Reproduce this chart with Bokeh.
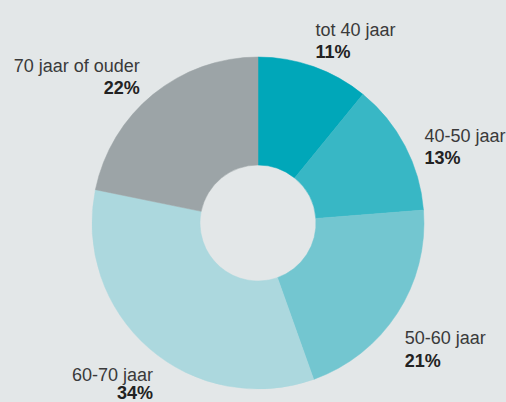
import numpy as np
from bokeh.plotting import figure
from bokeh.models import Range1d, ColumnDataSource
from bokeh.core.properties import value
from bokeh.embed import file_html
from bokeh.resources import INLINE

categories = ["tot 40 jaar", "40-50 jaar", "50-60 jaar", "60-70 jaar", "70 jaar of ouder"]
shares = [11, 13, 21, 34, 22]
pct_labels = ["11%", "13%", "21%", "34%", "22%"]
colors = ["#00a7b9", "#38b7c5", "#73c6d0", "#acd8de", "#9ca4a7"]

BG = "#e3e7e8"
W, H = 506, 402

vals = np.array(shares, dtype=float)
frac = vals / vals.sum()
cum = np.concatenate([[0.0], np.cumsum(frac)])
start = np.pi / 2 - 2 * np.pi * cum[:-1]
end = np.pi / 2 - 2 * np.pi * cum[1:]

src = ColumnDataSource(dict(start=start, end=end, color=colors, cat=categories))

p = figure(width=W, height=H, output_backend="svg", toolbar_location=None,
           x_range=Range1d(0, W), y_range=Range1d(0, H), min_border=0)
p.axis.visible = False
p.grid.visible = False
p.outline_line_color = None
p.background_fill_color = BG
p.border_fill_color = BG

cx, cy = 257.5, 402 - 222.5
p.annular_wedge(x=cx, y=cy, inner_radius=58, outer_radius=166,
                inner_radius_units="screen", outer_radius_units="screen",
                start_angle="start", end_angle="end", direction="clock",
                fill_color="color", line_color="color", line_width=0.5, source=src)

# label layout in page pixels from top (x, baseline of name, baseline of pct, align)
lab_x = [315, 424, 404.3, 152.5, 139.3]
lab_top = [29.3, 135, 337.3, 374, 65]
pct_top = [51, 157.3, 360, 392, 87.3]
align = ["left", "left", "left", "right", "right"]

for i in range(len(categories)):
    p.text(x=[lab_x[i]], y=[H - lab_top[i]], text=[categories[i]],
           text_font=value("Liberation Sans"), text_font_size="18px",
           text_color="#3a3a3a", text_align=align[i], text_baseline="alphabetic")
    p.text(x=[lab_x[i]], y=[H - pct_top[i]], text=[pct_labels[i]],
           text_font=value("Liberation Sans"), text_font_size="18px",
           text_font_style="bold",
           text_color="#222222", text_align=align[i], text_baseline="alphabetic")

tmpl = """{% block postamble %}<style>html,body{background:#e3e7e8;margin:0;padding:0;overflow:hidden;}</style>{% endblock %}"""
html = file_html(p, INLINE, template=tmpl)
open("out.html", "w").write(html)
